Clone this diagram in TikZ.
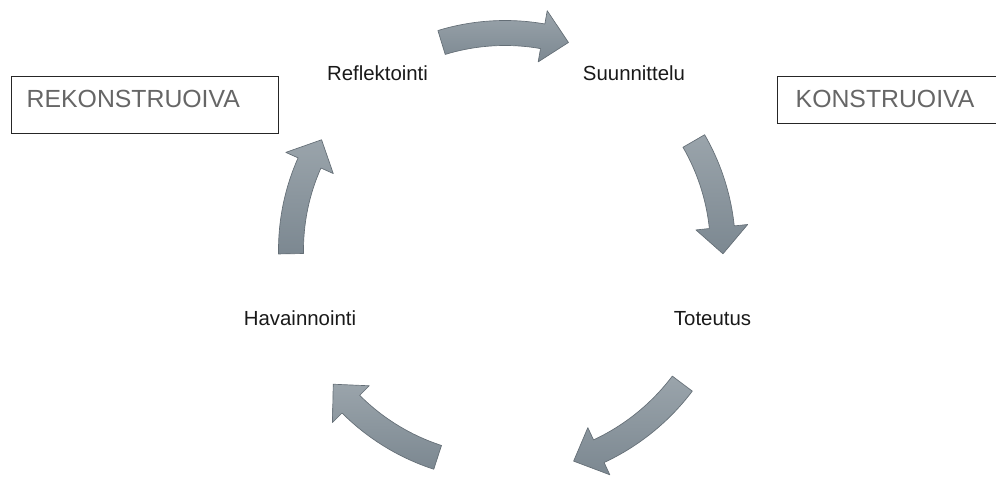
\documentclass[tikz,border=0pt]{standalone}
\usepackage{fontspec}
\setmainfont{Liberation Sans}
\usepackage{tikz}
\usetikzlibrary{positioning,calc}

\definecolor{arrowlight}{RGB}{154,164,171}
\definecolor{arrowdark}{RGB}{124,136,145}
\definecolor{arrowedge}{RGB}{100,110,118}
\definecolor{boxtext}{RGB}{102,102,102}

\begin{document}
\begin{tikzpicture}[
    x=0.75pt, y=0.75pt,
    step label/.style={anchor=base, inner sep=0pt, text=black!90, font=\fontsize{15.3}{18}\selectfont},
    phase/.style={draw=black!85, line width=1.1pt, anchor=north west, inner ysep=0pt, align=left,
                  text=boxtext, font=\fontsize{18.6}{22}\selectfont},
    cyclearrow/.style={top color=arrowlight, bottom color=arrowdark, draw=arrowedge, line width=0.5pt, line join=round},
]
    \useasboundingbox (0,0) rectangle (996,476);
    \clip (0,0) rectangle (996,476);

    % the two phase boxes
    \node[phase, inner xsep=11.25pt, text width=177.75pt, text height=23.25pt, text depth=19.5pt] (rekon) at (11,400) {REKONSTRUOIVA};
    \node[phase, inner xsep=13.5pt, text width=154.5pt, text height=23.25pt, text depth=12pt] (konst) at (777,400) {KONSTRUOIVA};

    % steps of the cycle
    \node[step label] (refl) at (377.5,395) {Reflektointi};
    \node[step label] (suun) at (634,395) {Suunnittelu};
    \node[step label] (tot) at (712.5,151) {Toteutus};
    \node[step label] (hav) at (300,151) {Havainnointi};

    % curved block arrows round the cycle (tail angle / tip angle / radius)
    \begin{scope}[shift={(505,226)}]
        \foreach \tl/\tp/\rr [evaluate=\tp as \hb using \tp+7] in {107/73/217, 30/-1/218, -37/-72/222, -108/-142/218, 181/149/214}
            \draw[cyclearrow] ({\tl}:{\rr+12.5}) arc[start angle=\tl, end angle=\hb, radius={\rr+12.5}]
                -- ({\hb}:{\rr+26}) -- ({\tp}:{\rr}) -- ({\hb}:{\rr-26}) -- ({\hb}:{\rr-12.5})
                arc[start angle=\hb, end angle=\tl, radius={\rr-12.5}] -- cycle;
    \end{scope}
\end{tikzpicture}
\end{document}
